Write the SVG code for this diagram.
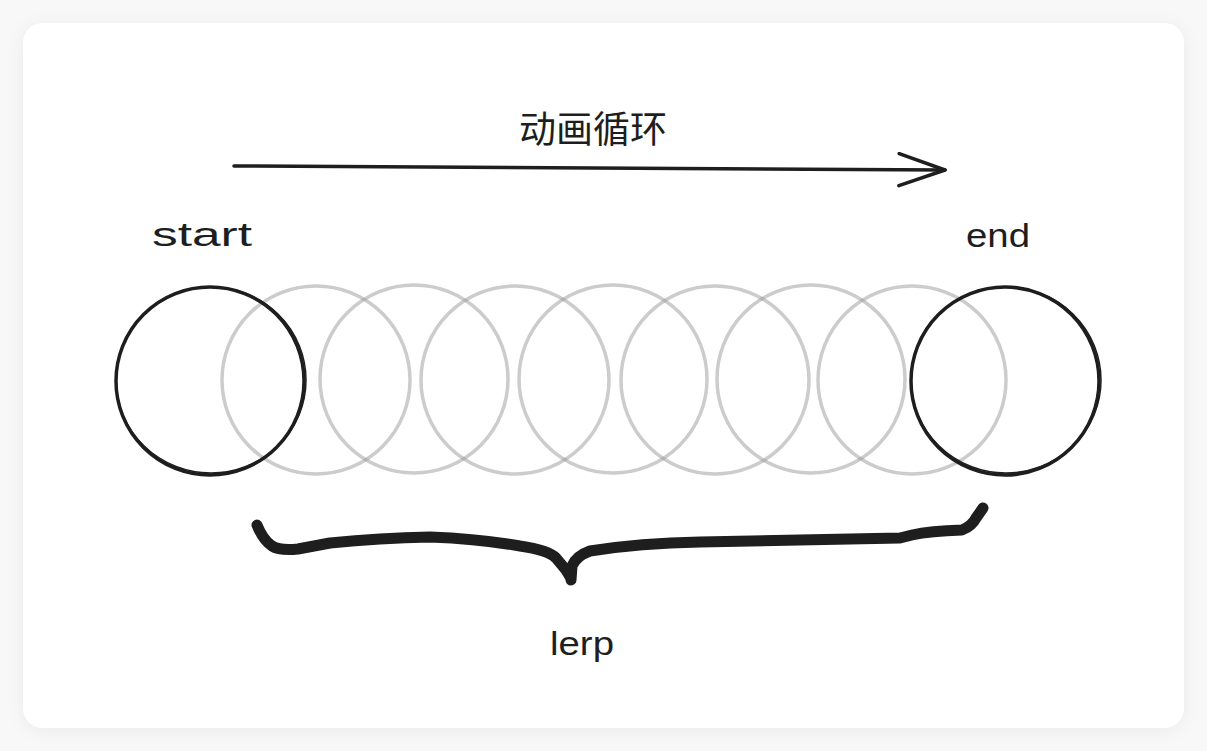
<svg xmlns="http://www.w3.org/2000/svg" width="1207" height="751" viewBox="0 0 1207 751">
  <defs>
    <filter id="shadow" x="-5%" y="-5%" width="110%" height="110%">
      <feDropShadow dx="0" dy="2" stdDeviation="8" flood-color="#000" flood-opacity="0.06"/>
    </filter>
    <marker id="arrowOpen" viewBox="0 0 52 36" refX="48" refY="18" markerWidth="52" markerHeight="36" markerUnits="userSpaceOnUse" orient="auto">
      <path d="M2 2 L48 18 L2 34" fill="none" stroke="#1e1e1e" stroke-width="3.5" stroke-linecap="round" stroke-linejoin="round"/>
    </marker>
  </defs>
  <style>
    .hand { font-family: "Liberation Sans", "DejaVu Sans", sans-serif; font-size: 34px; fill: #1e1e1e; }
    .cjk { font-family: "Noto Sans CJK SC", "Noto Sans", sans-serif; font-size: 37px; fill: #1e1e1e; }
    .solid { fill: none; stroke: #1e1e1e; stroke-width: 3.5; }
    .solid2 { fill: none; stroke: #1e1e1e; stroke-width: 1.5; }
    .ghost { fill: none; stroke: #9a9a9a; stroke-width: 3.5; stroke-opacity: 0.5; }
    .line { fill: none; stroke: #1e1e1e; stroke-width: 3.5; stroke-linecap: round; }
    .brace { fill: none; stroke: #1e1e1e; stroke-width: 11; stroke-linecap: round; stroke-linejoin: round; }
  </style>

  <rect width="1207" height="751" fill="#f8f8f8"/>
  <rect x="23" y="23" width="1161" height="705" rx="20" ry="20" fill="#ffffff" filter="url(#shadow)"/>

  <g id="frames">
    <circle class="ghost" cx="316" cy="380" r="94"/>
    <circle class="ghost" cx="414" cy="379" r="94"/>
    <circle class="ghost" cx="515" cy="380" r="94"/>
    <circle class="ghost" cx="613" cy="379" r="94"/>
    <circle class="ghost" cx="715" cy="380" r="94"/>
    <circle class="ghost" cx="811" cy="379" r="94"/>
    <circle class="ghost" cx="912" cy="380" r="94"/>
  </g>

  <g id="start-node">
    <circle class="solid" cx="210" cy="381" r="94"/>
    <ellipse class="solid2" cx="211" cy="380" rx="95" ry="93"/>
    <text class="hand" x="152" y="246" textLength="100" lengthAdjust="spacingAndGlyphs">start</text>
  </g>

  <g id="end-node">
    <circle class="solid" cx="1005" cy="381" r="94"/>
    <ellipse class="solid2" cx="1006" cy="380" rx="95" ry="93"/>
    <text class="hand" x="966" y="247" textLength="64" lengthAdjust="spacingAndGlyphs">end</text>
  </g>

  <g id="title">
    <text class="cjk" x="593" y="143" text-anchor="middle">动画循环</text>
  </g>

  <g id="connectors">
    <path class="line" d="M234 166 Q590 167 945 170" marker-end="url(#arrowOpen)"/>
    <path class="brace" d="M257 525 Q263 540 272 546 Q280 551 298 549 L330 543 Q380 538 430 537 Q480 539 520 546 Q548 550 556 558 L566 570 Q571 578 571 580 L572 566 Q576 556 590 551 Q640 543 700 542 Q800 540 900 538 L912 535 Q930 531 962 530 Q972 526 976 518 L983 508"/>
  </g>

  <g id="lerp-label">
    <text class="hand" x="550" y="655" textLength="64" lengthAdjust="spacingAndGlyphs">lerp</text>
  </g>
</svg>
